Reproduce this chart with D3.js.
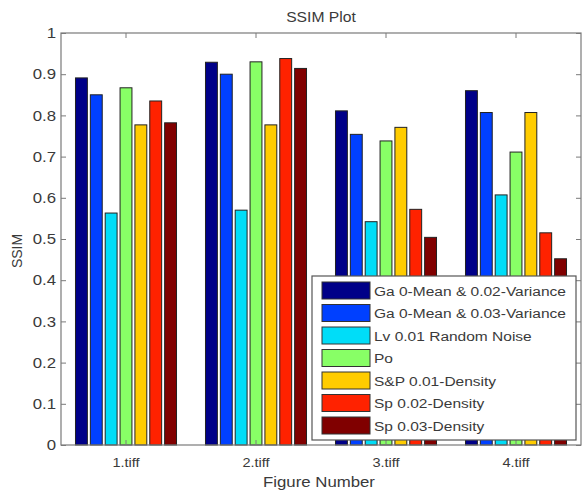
<!DOCTYPE html>
<html lang="en">
<head>
  <meta charset="UTF-8">
  <title>SSIM Plot</title>
  <style>
    body { margin: 0; background: #fff; }
    svg { display: block; font-family: "Liberation Sans", Arial, sans-serif; }
    .frame { fill: none; stroke: #7a7a7a; stroke-width: 1.2; }
    .tick line { stroke: #7a7a7a; }
    .lbl { fill: #3a3a3a; }
    .bar { stroke: #222; stroke-width: 1; }
  </style>
</head>
<body>
<div id="chart"></div>
<script src="https://cdn.jsdelivr.net/npm/d3@7"></script>
<script>
  const categories = ['1.tiff', '2.tiff', '3.tiff', '4.tiff'];
  const series = [
    'Ga 0-Mean & 0.02-Variance',
    'Ga 0-Mean & 0.03-Variance',
    'Lv 0.01 Random Noise',
    'Po',
    'S&P 0.01-Density',
    'Sp 0.02-Density',
    'Sp 0.03-Density'
  ];
  const colors = ['#000088', '#0040ff', '#00ddf8', '#88ff66', '#ffcc00', '#ff2200', '#800000'];
  // one array per series, values for 1.tiff .. 4.tiff
  const gaussian02 = [0.891, 0.929, 0.811, 0.860];
  const gaussian03 = [0.850, 0.900, 0.754, 0.807];
  const localVar = [0.563, 0.570, 0.542, 0.607];
  const poisson = [0.867, 0.930, 0.738, 0.711];
  const saltPepper = [0.777, 0.777, 0.771, 0.807];
  const speckle02 = [0.835, 0.938, 0.572, 0.515];
  const speckle03 = [0.782, 0.914, 0.504, 0.452];
  const values = [gaussian02, gaussian03, localVar, poisson, saltPepper, speckle02, speckle03];
  const yTicks = [0, 0.1, 0.2, 0.3, 0.4, 0.5, 0.6, 0.7, 0.8, 0.9, 1];

  const width = 582, height = 495;
  const mLeft = 61, mRight = 581, mTop = 33, mBottom = 445;
  const stretch = 'scale(1.12,1)'; // the source render is a little wide

  const svg = d3.select('#chart').append('svg')
    .attr('width', width).attr('height', height);

  const x0 = d3.scaleBand().domain(categories).range([mLeft, mRight])
    .paddingInner(0.2).paddingOuter(0.1);
  const x1 = d3.scaleBand().domain(d3.range(series.length)).range([0, x0.bandwidth()])
    .paddingInner(0.2).paddingOuter(0.1);
  const y = d3.scaleLinear().domain([0, 1]).range([mBottom, mTop]);

  // bars
  const groups = svg.append('g').selectAll('g')
    .data(categories).enter().append('g')
    .attr('transform', d => `translate(${x0(d)},0)`);
  groups.selectAll('rect')
    .data((c, ci) => values.map((v, si) => ({ si, v: v[ci] })))
    .enter().append('rect')
    .attr('class', 'bar')
    .attr('x', d => x1(d.si))
    .attr('width', x1.bandwidth())
    .attr('y', d => y(d.v))
    .attr('height', d => y(0) - y(d.v))
    .attr('fill', d => colors[d.si]);

  // axes (ticks inward, matlab style)
  const tickFmt = d => d === 0 ? '0' : d === 1 ? '1' : d3.format('.1f')(d);
  const yl = svg.append('g').attr('transform', `translate(${mLeft},0)`)
    .call(d3.axisRight(y).tickValues(yTicks).tickSize(5).tickFormat(''));
  const yr = svg.append('g').attr('transform', `translate(${mRight},0)`)
    .call(d3.axisLeft(y).tickValues(yTicks).tickSize(5).tickFormat(''));
  const xt = svg.append('g').attr('transform', `translate(0,${mTop})`)
    .call(d3.axisBottom(x0).tickSize(5).tickFormat(''));
  const xb = svg.append('g').attr('transform', `translate(0,${mBottom})`)
    .call(d3.axisTop(x0).tickSize(5).tickFormat(''));
  [yl, yr, xt, xb].forEach(g => g.select('.domain').remove());

  svg.append('rect').attr('class', 'frame')
    .attr('x', mLeft).attr('y', mTop)
    .attr('width', mRight - mLeft).attr('height', mBottom - mTop);

  // tick labels
  svg.append('g').selectAll('text').data(yTicks).enter().append('text')
    .attr('class', 'lbl')
    .attr('transform', d => `translate(${mLeft - 5},${y(d)}) ${stretch}`)
    .attr('dy', '0.35em')
    .attr('text-anchor', 'end').attr('font-size', 15)
    .text(tickFmt);
  svg.append('g').selectAll('text').data(categories).enter().append('text')
    .attr('class', 'lbl')
    .attr('transform', d => `translate(${x0(d) + x0.bandwidth() / 2},${mBottom + 22}) ${stretch}`)
    .attr('text-anchor', 'middle').attr('font-size', 13)
    .text(d => d);

  svg.append('text').attr('class', 'lbl')
    .attr('transform', `translate(${(mLeft + mRight) / 2},22) ${stretch}`)
    .attr('text-anchor', 'middle').attr('font-size', 14)
    .text('SSIM Plot');
  svg.append('text').attr('class', 'lbl')
    .attr('transform', `translate(${(mLeft + mRight) / 2 - 2},487) ${stretch}`)
    .attr('text-anchor', 'middle').attr('font-size', 15)
    .text('Figure Number');
  svg.append('text').attr('class', 'lbl')
    .attr('transform', `translate(22,${(mTop + mBottom) / 2 + 12}) rotate(-90)`)
    .attr('text-anchor', 'middle').attr('font-size', 14)
    .text('SSIM');

  // legend
  const lg = svg.append('g').attr('transform', 'translate(312,276)');
  lg.append('rect').attr('width', 264).attr('height', 164)
    .attr('fill', '#fff').attr('stroke', '#555').attr('stroke-width', 1.2);
  const items = lg.selectAll('g.item').data(series).enter().append('g')
    .attr('transform', (d, i) => `translate(10,${6 + i * 22.5})`);
  items.append('rect').attr('width', 48).attr('height', 17)
    .attr('fill', (d, i) => colors[i]).attr('stroke', '#333');
  items.append('text').attr('class', 'lbl')
    .attr('transform', 'translate(52,9) scale(1.15,1)')
    .attr('dy', '0.35em')
    .attr('font-size', 13.5)
    .text(d => d);
</script>
</body>
</html>
